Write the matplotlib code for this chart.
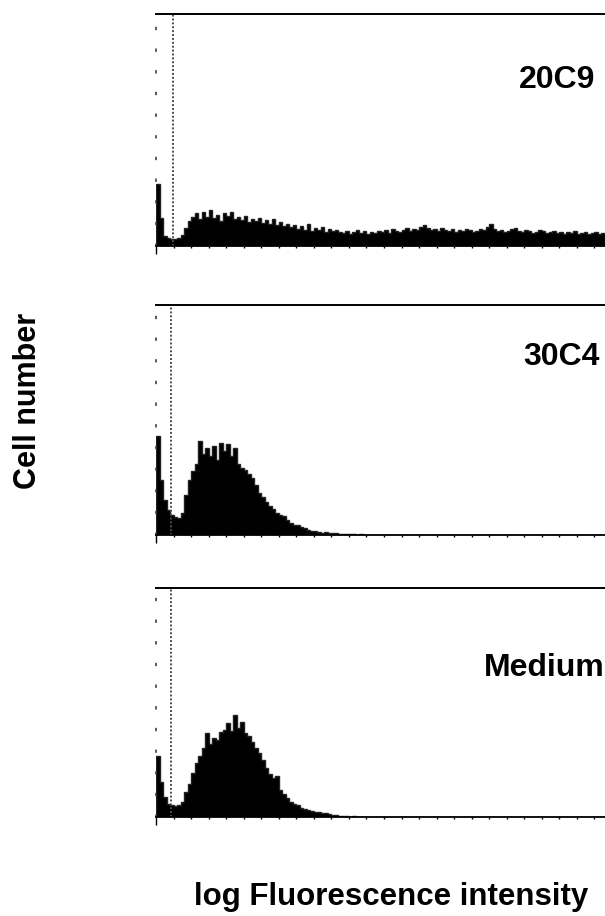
import matplotlib
matplotlib.use("Agg")
import matplotlib.pyplot as plt
import numpy as np

plt.rcParams['font.family'] = ['Liberation Sans', 'DejaVu Sans']

# ---- data (cell counts per 2-channel bin, 256 channels) ----
bin_width = 2
n_channels = 256

counts_20C9 = [
    62, 28, 10, 8, 7, 7, 8, 11, 18, 25, 29,
    33, 27, 34, 29, 36, 28, 31, 25, 33, 30, 34, 27, 29, 26, 30, 24, 27,
    25, 28, 23, 26, 22, 27, 21, 24, 20, 22,
    19, 21, 17, 20, 16, 22, 15, 18, 16, 19, 14, 17, 15, 16, 14,
    13, 15, 12, 14, 16, 13, 15, 12, 14, 13,
    15, 14, 16, 13, 17, 15, 14, 16, 18, 15,
    17, 16, 19, 21, 18, 16, 17, 15, 18, 16,
    15, 17, 14, 16, 15, 17, 16, 14, 15, 17,
    16, 19, 22, 17, 15, 16, 14, 15, 17, 18,
    15, 14, 16, 15, 13, 14, 16, 15, 13, 14,
    15, 13, 14, 12, 14, 13, 15, 12, 13, 14,
    12, 13, 14, 12, 13,
]

counts_30C4 = [
    100, 55, 35, 25, 20, 18, 17, 22, 40, 55,
    65, 72, 95, 82, 88, 80, 90, 76, 93, 85,
    92, 80, 88, 72, 68, 66, 62, 58, 50, 42,
    38, 33, 29, 26, 22, 20, 19, 15, 12, 10,
    10, 8, 7, 5, 4, 4, 3, 2, 3, 2,
    2, 2, 1, 1, 1, 1, 1, 0, 1, 0,
    0, 0, 0, 0, 0, 0, 0, 0, 0, 0,
    0, 0, 0, 0, 0, 0, 0, 0, 0, 0,
    0, 0, 0, 0, 0, 0, 0, 0, 0, 0,
    0, 0, 0, 0, 0, 0, 0, 0, 0, 0,
    0, 0, 0, 0, 0, 0, 0, 0, 0, 0,
    0, 0, 0, 0, 0, 0, 0, 0, 0, 0,
    0, 0, 0, 0, 0, 0, 0, 0,
]

counts_Medium = [
    62, 35, 20, 13, 12, 11, 12, 15, 25, 33,
    45, 55, 62, 70, 85, 74, 80, 78, 86, 88,
    95, 87, 103, 90, 96, 85, 82, 76, 70, 65,
    58, 50, 44, 40, 42, 27, 23, 19, 15, 13,
    12, 9, 8, 7, 6, 5, 5, 4, 4, 3,
    2, 2, 1, 1, 1, 0, 1, 0, 0, 0,
    0, 0, 0, 0, 0, 0, 0, 0, 0, 0,
    0, 0, 0, 0, 0, 0, 0, 0, 0, 0,
    0, 0, 0, 0, 0, 0, 0, 0, 0, 0,
    0, 0, 0, 0, 0, 0, 0, 0, 0, 0,
    0, 0, 0, 0, 0, 0, 0, 0, 0, 0,
    0, 0, 0, 0, 0, 0, 0, 0, 0, 0,
    0, 0, 0, 0, 0, 0, 0, 0,
]

panel_labels = ["20C9", "30C4", "Medium"]
panel_counts = [counts_20C9, counts_30C4, counts_Medium]
marker_channel = [9.7, 8.6, 8.6]
y_max = 232

# ---- layout ----
W, H = 605, 916
fig = plt.figure(figsize=(W / 100, H / 100), dpi=100)

# (left px, top px, right px, baseline px)
panel_boxes = [(156, 14, 605, 246), (156, 305, 605, 535), (156, 588, 605, 817)]
label_pos = [(595, 80), (600, 357), (605, 668)]

for (l, t, r, b), counts, lab, mc, (lx, ly) in zip(panel_boxes, panel_counts,
                                                    panel_labels, marker_channel, label_pos):
    ax = fig.add_axes([l / W, 1 - b / H, (r - l) / W, (b - t) / H])
    counts = np.asarray(counts, dtype=float)
    edges = np.arange(len(counts) + 1) * bin_width
    ax.stairs(counts, edges, fill=True, color='black', linewidth=0)
    ax.stairs(counts, edges, fill=False, color='#222222', linewidth=1.0)
    ax.axvline(mc, color='0.3', linestyle=(0, (1, 1)), linewidth=1.4)
    ax.set_xlim(0, n_channels)
    ax.set_ylim(0, y_max)
    ax.spines['right'].set_visible(False)
    ax.spines['top'].set_linewidth(1.4)
    ax.spines['bottom'].set_linewidth(1.3)
    ax.spines['left'].set_linestyle((0, (1, 12)))
    ax.spines['left'].set_color('0.25')
    ax.spines['left'].set_linewidth(1.2)
    ax.set_yticks([])
    ax.set_xticks([0])
    ax.set_xticklabels([])
    ax.set_xticks(np.arange(10, n_channels, 10), minor=True)
    ax.tick_params(axis='x', which='major', direction='out', length=6, width=1.0, color='black')
    ax.tick_params(axis='x', which='minor', direction='out', length=1.5, width=1.0, color='black')
    fig.text(lx / W, 1 - ly / H, lab, ha='right', va='center', fontsize=23,
             fontweight='bold', color='black')

fig.text(28 / W, 1 - 401 / H, "Cell number", rotation=90, ha='center', va='center',
         fontsize=22, fontweight='bold')
fig.text(391 / W, 1 - 897 / H, "log Fluorescence intensity", ha='center', va='center',
         fontsize=22.5, fontweight='bold')

fig.savefig("out.png", dpi=100, facecolor='white')
